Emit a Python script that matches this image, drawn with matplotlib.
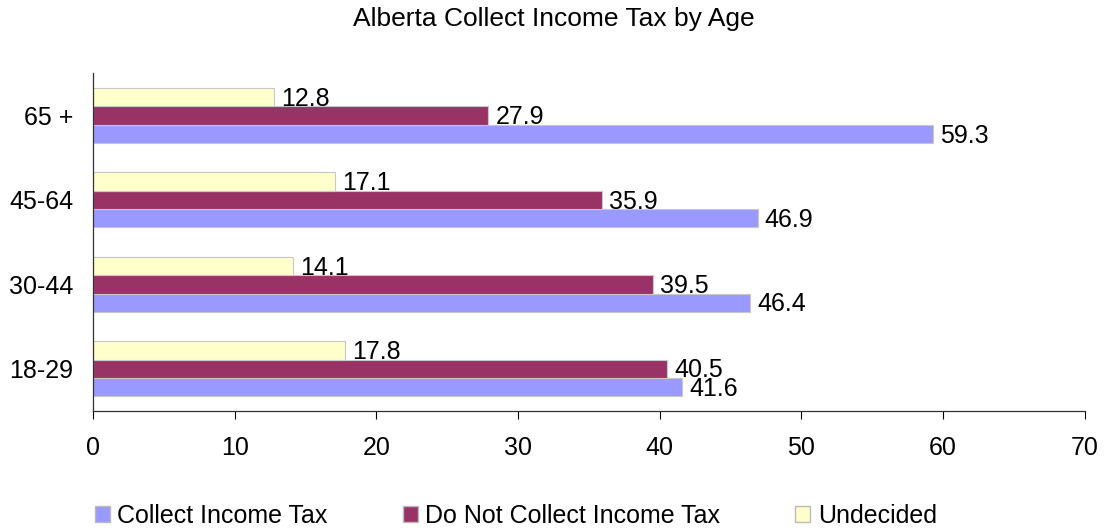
import numpy as np
import matplotlib
matplotlib.use("Agg")
import matplotlib.pyplot as plt
import matplotlib.patches as mpatches

plt.rcParams["font.family"] = ["Liberation Sans", "DejaVu Sans"]

# ─── data ────────────────────────────────────────────────────────────────────
ages        = ["18-29", "30-44", "45-64", "65 +"]
collect     = [41.6, 46.4, 46.9, 59.3]
not_collect = [40.5, 39.5, 35.9, 27.9]
undecided   = [17.8, 14.1, 17.1, 12.8]

series_names  = ["Collect Income Tax", "Do Not Collect Income Tax", "Undecided"]
series_colors = ["#9999FF", "#993366", "#FFFFCC"]

FS = 18

# ─── figure ──────────────────────────────────────────────────────────────────
fig = plt.figure(figsize=(11.07, 5.31), dpi=100)
ax = fig.add_axes([0.084, 0.226, 0.896, 0.636])

y = np.arange(len(ages))
h = 0.217
offsets = [-h, 0, h]

for vals, off, col in zip([collect, not_collect, undecided], offsets, series_colors):
    bars = ax.barh(y + off, vals, height=h, color=col,
                   edgecolor="#c8c8c8", linewidth=0.8)
    for b, v in zip(bars, vals):
        ax.text(v + 0.5, b.get_y() + b.get_height() / 2 - 0.02, f"{v:.1f}",
                va="center", ha="left", fontsize=FS)

ax.set_xlim(0, 70)
ax.set_ylim(-0.5, 3.5)
ax.set_xticks(np.arange(0, 71, 10))
ax.set_yticks(y)
ax.set_yticklabels(ages)
ax.tick_params(axis="x", direction="out", length=6, width=0.8, pad=12, labelsize=FS)
ax.tick_params(axis="y", length=0, pad=14, labelsize=FS)

for s in ["top", "right"]:
    ax.spines[s].set_visible(False)
for s in ["left", "bottom"]:
    ax.spines[s].set_linewidth(0.9)
    ax.spines[s].set_color("#333333")

fig.text(0.5, 0.965, "Alberta Collect Income Tax by Age",
         ha="center", va="center", fontsize=19)

handles = [mpatches.Patch(facecolor=c, edgecolor="#bbbbbb", label=n)
           for n, c in zip(series_names, series_colors)]
fig.legend(handles=handles, loc="center", bbox_to_anchor=(0.466, 0.028),
           ncol=3, frameon=False, fontsize=FS, handlelength=0.6,
           handleheight=0.6, handletextpad=0.3, columnspacing=3.0)

fig.savefig("out.png", dpi=100)
